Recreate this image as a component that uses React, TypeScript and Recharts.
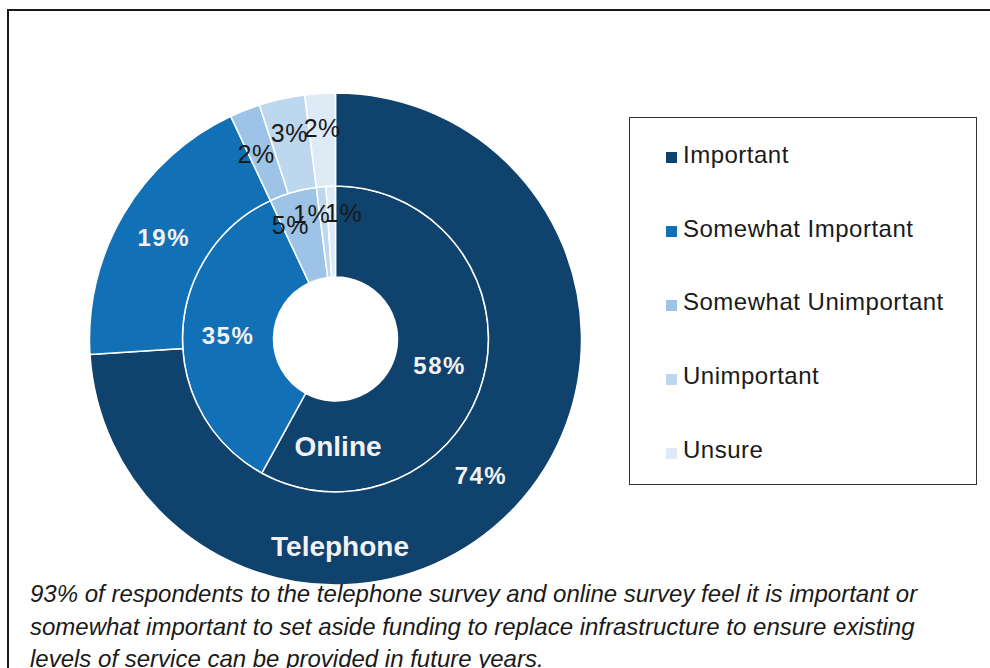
import { PieChart, Pie, Cell, Legend } from 'recharts'

const categories = ['Important', 'Somewhat Important', 'Somewhat Unimportant', 'Unimportant', 'Unsure']
const onlineValues = [58, 35, 5, 1, 1]
const telephoneValues = [74, 19, 2, 3, 2]
const colors = ['#10426e', '#1170b6', '#9dc3e6', '#bdd7ee', '#deebf7']
const captionLines = [
  '93% of respondents to the telephone survey and online survey feel it is important or',
  'somewhat important to set aside funding to replace infrastructure to ensure existing',
  'levels of service can be provided in future years.',
]

const onlineData = categories.map((name, i) => ({ name, value: onlineValues[i] }))
const telephoneData = categories.map((name, i) => ({ name, value: telephoneValues[i] }))

const RAD = Math.PI / 180
const FONT = '"Liberation Sans", Arial, sans-serif'

// ring: 'inner' | 'outer'. small slices get pushed apart so they don't collide
const makeLabel = (ring: 'inner' | 'outer') => (props: any) => {
  const { cx, cy, midAngle, innerRadius, outerRadius, index, value } = props
  let r = (innerRadius + outerRadius) / 2
  let dx = 0
  const dark = index < 2
  if (!dark) {
    if (ring === 'outer') {
      if (index === 2) dx = -6
      else r += 12
    } else {
      r = index === 2 ? 119 : 126
      dx = index === 4 ? 12 : -12
    }
  }
  const x = cx + r * Math.cos(-midAngle * RAD) + dx
  const y = cy + r * Math.sin(-midAngle * RAD)
  return (
    <text
      x={x}
      y={y}
      textAnchor="middle"
      dominantBaseline="central"
      fill={dark ? '#f2f2f2' : '#1a1a1a'}
      fontFamily={FONT}
      fontWeight={dark ? 700 : 400}
      fontSize={dark ? 24 : 25}
      letterSpacing={dark ? 1.5 : 0.5}
    >
      {value}%
    </text>
  )
}

const LegendBox = () => (
  <div
    style={{
      width: 348,
      height: 368,
      border: '1.5px solid #333',
      boxSizing: 'border-box',
      fontFamily: FONT,
    }}
  >
    {categories.map((name, i) => (
      <div key={name} style={{ height: 73.8, display: 'flex', alignItems: 'center', paddingLeft: 36 }}>
        <span style={{ width: 11, height: 11, background: colors[i], marginRight: 6, marginTop: 6 }} />
        <span style={{ fontSize: 24, color: '#1a1a1a', letterSpacing: 0.5 }}>{name}</span>
      </div>
    ))}
  </div>
)

export default function App() {
  const cx = 335.5
  const cy = 339
  return (
    <div
      style={{
        position: 'absolute',
        left: 0,
        top: 0,
        width: 990,
        height: 668,
        overflow: 'hidden',
        background: '#fff',
      }}
    >
      <div
        style={{
          position: 'absolute',
          left: 7,
          top: 9,
          width: 1010,
          height: 700,
          borderLeft: '2px solid #1a1a1a',
          borderTop: '2px solid #1a1a1a',
        }}
      />
      <div style={{ position: 'absolute', left: 0, top: 0 }}>
        <PieChart width={990} height={668} margin={{ top: 0, right: 0, bottom: 0, left: 0 }}>
          <Pie
            data={onlineData}
            dataKey="value"
            nameKey="name"
            cx={cx}
            cy={cy}
            innerRadius={62}
            outerRadius={153}
            startAngle={90}
            endAngle={-270}
            stroke="#ffffff"
            strokeWidth={1.5}
            label={makeLabel('inner')}
            labelLine={false}
            isAnimationActive={false}
          >
            {onlineData.map((d, i) => (
              <Cell key={d.name} fill={colors[i]} />
            ))}
          </Pie>
          <Pie
            data={telephoneData}
            dataKey="value"
            nameKey="name"
            cx={cx}
            cy={cy}
            innerRadius={153}
            outerRadius={246}
            startAngle={90}
            endAngle={-270}
            stroke="#ffffff"
            strokeWidth={1.5}
            label={makeLabel('outer')}
            labelLine={false}
            isAnimationActive={false}
          >
            {telephoneData.map((d, i) => (
              <Cell key={d.name} fill={colors[i]} />
            ))}
          </Pie>
          <Legend
            content={() => <LegendBox />}
            wrapperStyle={{ position: 'absolute', left: 629, top: 117, width: 350, height: 370 }}
          />
        </PieChart>
      </div>
      <div
        style={{
          position: 'absolute',
          left: 338 - 100,
          top: 447 - 18,
          width: 200,
          textAlign: 'center',
          fontFamily: FONT,
          fontWeight: 700,
          fontSize: 28,
          lineHeight: '36px',
          color: '#f2f2f2',
        }}
      >
        Online
      </div>
      <div
        style={{
          position: 'absolute',
          left: 340 - 120,
          top: 547 - 18,
          width: 240,
          textAlign: 'center',
          fontFamily: FONT,
          fontWeight: 700,
          fontSize: 28,
          lineHeight: '36px',
          color: '#f2f2f2',
        }}
      >
        Telephone
      </div>
      <div
        style={{
          position: 'absolute',
          left: 30,
          top: 578,
          fontFamily: FONT,
          fontStyle: 'italic',
          fontSize: 24,
          lineHeight: '32.5px',
          color: '#1a1a1a',
          whiteSpace: 'nowrap',
        }}
      >
        {captionLines.map((line) => (
          <div key={line}>{line}</div>
        ))}
      </div>
    </div>
  )
}
